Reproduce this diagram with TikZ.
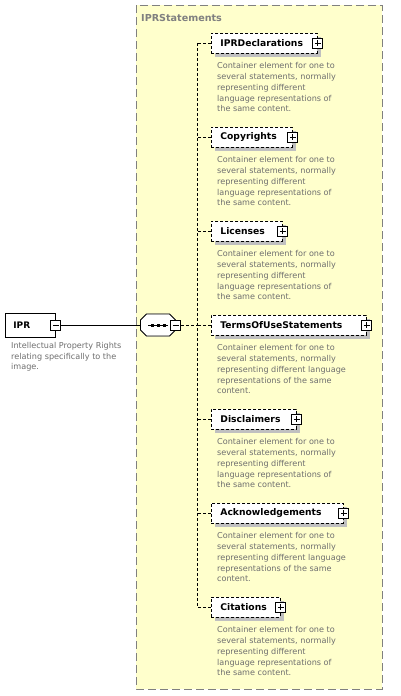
\documentclass[tikz,border=0pt]{standalone}
\usepackage{fontspec}
\setmainfont{DejaVu Sans}
\usepackage{tikz}
\usetikzlibrary{shadows, positioning, calc}
\definecolor{grpyellow}{RGB}{255,255,204}
\definecolor{grpborder}{RGB}{128,128,128}
\definecolor{desctext}{RGB}{110,110,110}
\definecolor{shadegray}{RGB}{192,192,192}
\newcommand{\descnarrow}{Container element for one to\\several statements, normally\\representing different\\language representations of\\the same content.}
\newcommand{\descwide}{Container element for one to\\several statements, normally\\representing different language\\representations of the same\\content.}
\tikzset{
  groupbox/.style={draw=grpborder, fill=grpyellow, dash pattern=on 8pt off 4pt, line width=0.8pt},
  rootbox/.style={rectangle, draw, fill=white, line width=0.8pt, minimum height=24pt,
    inner xsep=8pt, text width=34pt, align=left, font=\fontsize{9}{10}\selectfont\bfseries, anchor=west},
  elembox/.style={rectangle, draw, fill=white, dash pattern=on 3pt off 2pt, line width=0.8pt,
    minimum height=20pt, inner xsep=9pt, align=left, anchor=west,
    font=\fontsize{9.2}{10}\selectfont\bfseries,
    drop shadow={shadow xshift=4pt, shadow yshift=-4pt, fill=shadegray, opacity=1}},
  signbox/.style={rectangle, draw, fill=white, minimum size=10pt, inner sep=0pt, line width=0.7pt},
  plusbox/.style={signbox, path picture={
    \draw ([xshift=2pt]path picture bounding box.west) -- ([xshift=-2pt]path picture bounding box.east)
          ([yshift=-2pt]path picture bounding box.north) -- ([yshift=2pt]path picture bounding box.south);}},
  minusbox/.style={signbox, path picture={
    \draw ([xshift=2pt]path picture bounding box.west) -- ([xshift=-2pt]path picture bounding box.east);}},
  seqnode/.style={rectangle, minimum width=35pt, minimum height=22pt, inner sep=0pt},
  desc/.style={anchor=north west, align=left, inner sep=0pt, text=desctext,
    font=\fontsize{8.1}{10.8}\selectfont},
  line/.style={line width=0.8pt},
  dashline/.style={line width=0.8pt, dash pattern=on 3pt off 2pt}
}
\begin{document}
\begin{tikzpicture}[x=1pt, y=-1pt]
  \useasboundingbox[fill=white] (0,0) rectangle (400,696);
  % IPRStatements group
  \draw[groupbox] (136,5) rectangle (382,689);
  \node[anchor=west, inner sep=0pt, text=grpborder, font=\fontsize{9.6}{10}\selectfont\bfseries] (grptitle) at (141,18) {IPRStatements};

  % root element
  \node[rootbox] (ipr) at (5,325) {IPR};
  \node[minusbox] (iprm) at (ipr.east) {};
  \node[desc] (iprdesc) at (11,342) {Intellectual Property Rights\\relating specifically to the\\image.};

  % sequence compositor
  \node[seqnode] (seq) at (158,325) {};
  \foreach \s/\c/\d in {3/shadegray/shadegray, 0/white/black}
    \draw[line, fill=\c, draw=\d, shift={(\s,\s)}]
      (seq.center) ++(-17.5,-5) -- ++(6,-6) -- ++(23,0) -- ++(6,6) -- ++(0,10)
      -- ++(-6,6) -- ++(-23,0) -- ++(-6,-6) -- cycle;
  \draw[line] ([xshift=-10pt]seq.center) -- ([xshift=10pt]seq.center);
  \foreach \dx in {-6,0,6}
    \fill ([xshift=\dx pt]seq.center) +(-1.5pt,-1.5pt) rectangle +(1.5pt,1.5pt);
  \node[minusbox] (seqm) at (seq.east) {};
  \draw[line] (iprm.east) -- (seq.west);

  \coordinate (trunk) at (197,325);

  % child elements
  \foreach \nm/\w/\ds [count=\i from 0, evaluate=\w as \tw using \w-18] in {IPRDeclarations/106/\descnarrow,
      Copyrights/81/\descnarrow, Licenses/71/\descnarrow,
      TermsOfUseStatements/155/\descwide, Disclaimers/85/\descnarrow,
      Acknowledgements/132/\descwide, Citations/69/\descnarrow} {
    \node[elembox, text width=\tw pt] (e\i) at (211,{43+94*\i}) {\nm};
    \node[plusbox] (p\i) at (e\i.east) {};
    \node[desc] (d\i) at ([xshift=6pt, yshift=-9pt]e\i.south west) {\ds};
    \draw[dashline] (e\i.west) -- (e\i.west -| trunk);
  }
  \draw[dashline] (e0.west -| trunk) -- (e6.west -| trunk);
  \draw[dashline] (seqm.east) -- (trunk);
\end{tikzpicture}
\end{document}
